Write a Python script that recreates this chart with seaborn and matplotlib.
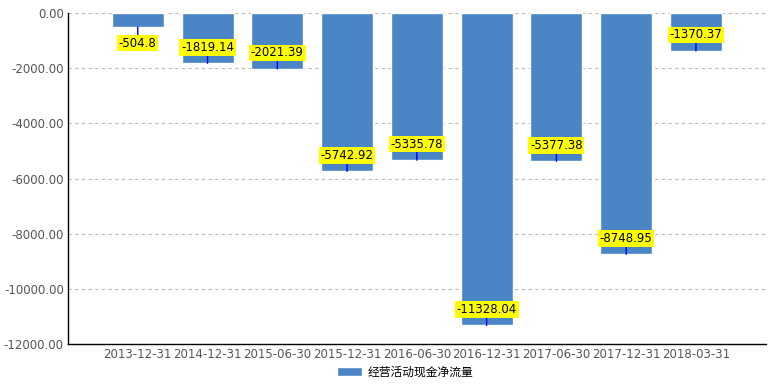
import matplotlib
matplotlib.use('Agg')
import matplotlib.pyplot as plt
import seaborn as sns
import pandas as pd
from matplotlib.ticker import FormatStrFormatter

# 데이터
dates = ['2013-12-31', '2014-12-31', '2015-06-30', '2015-12-31', '2016-06-30',
         '2016-12-31', '2017-06-30', '2017-12-31', '2018-03-31']
values = [-504.8, -1819.14, -2021.39, -5742.92, -5335.78,
          -11328.04, -5377.38, -8748.95, -1370.37]
labels = ['-504.8', '-1819.14', '-2021.39', '-5742.92', '-5335.78',
          '-11328.04', '-5377.38', '-8748.95', '-1370.37']
series = '经营活动现金净流量'

df = pd.DataFrame({'date': dates, 'value': values, 'name': series})

sns.set_style('white')
plt.rcParams['font.family'] = ['DejaVu Sans', 'Noto Sans CJK SC']

fig = plt.figure(figsize=(7.84, 3.86), dpi=100)
ax = fig.add_axes([0.0867, 0.109, 0.89, 0.857])

sns.barplot(data=df, x='date', y='value', hue='name', palette=['#4a86c5'],
            width=0.745, saturation=1, ax=ax, zorder=2)

ax.set_xlim(-1, 9)
ax.set_ylim(-12000, 0)
ax.set_yticks(range(-12000, 1, 2000))
ax.yaxis.set_major_formatter(FormatStrFormatter('%.2f'))
ax.yaxis.grid(True, linestyle=(0, (3, 3)), color='#bbbbbb', linewidth=0.8, zorder=0)
ax.set_xlabel('')
ax.set_ylabel('')
ax.tick_params(axis='both', length=0, labelsize=8.5, colors='#555555', pad=3)
for s in ['top', 'right']:
    ax.spines[s].set_visible(False)
for s in ['left', 'bottom']:
    ax.spines[s].set_color('black')
    ax.spines[s].set_linewidth(1)

# 데이터 라벨 (노란 박스 + 파란 선)
for i, (v, t) in enumerate(zip(values, labels)):
    off = -16 if i == 0 else 16
    ax.annotate(t, xy=(i, v), xytext=(0, off), textcoords='offset pixels',
                ha='center', va='center', fontsize=8.5, color='black',
                bbox=dict(boxstyle='square,pad=0.15', fc='yellow', ec='none'),
                arrowprops=dict(arrowstyle='-', color='blue', lw=1,
                                shrinkA=0, shrinkB=0),
                zorder=5)

ax.legend(loc='center', bbox_to_anchor=(0.483, -0.085), frameon=False,
          fontsize=8.5, handlelength=2.1, handleheight=0.9, handletextpad=0.5,
          labelcolor='black')

fig.savefig('out.png', dpi=100)
